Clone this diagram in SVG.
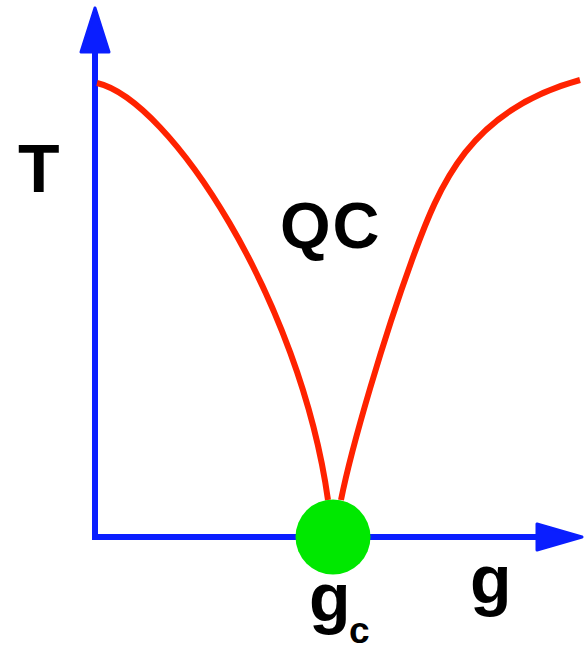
<svg xmlns="http://www.w3.org/2000/svg" width="585" height="651" viewBox="0 0 585 651">
<style>
.axis{stroke:#0a1eff;stroke-width:6;fill:none;stroke-linecap:square}
.head{fill:#0a1eff;stroke:#0a1eff;stroke-width:3;stroke-linejoin:round}
.curve{stroke:#ff2200;stroke-width:6;fill:none}
.lbl{font-family:"Liberation Sans",Arial,sans-serif;font-weight:bold;fill:#000}
</style>
<rect width="585" height="651" fill="#fff"/>
<g id="axes">
<path class="axis" d="M95,50 L95,537 L540,537"/>
<polygon class="head" points="95,8 81,52 109,52"/>
<polygon class="head" points="582,537 537,524 537,550"/>
</g>
<g id="curves">
<path class="curve" d="M97,83 C170,100 300,300 328,500"/>
<path class="curve" d="M341,500 C352,445 384,337 412,260 C440,183 470,110 580,80"/>
</g>
<g id="critical-point">
<circle cx="333" cy="537" r="37.5" fill="#00e800"/>
</g>
<g id="labels">
<text class="lbl" x="18" y="192" font-size="68">T</text>
<text class="lbl" x="280" y="248" font-size="65" letter-spacing="2">QC</text>
<text class="lbl" x="470" y="603" font-size="68">g</text>
<text class="lbl" x="309" y="621" font-size="68">g</text>
<text class="lbl" x="349" y="643" font-size="37">c</text>
</g>
</svg>
